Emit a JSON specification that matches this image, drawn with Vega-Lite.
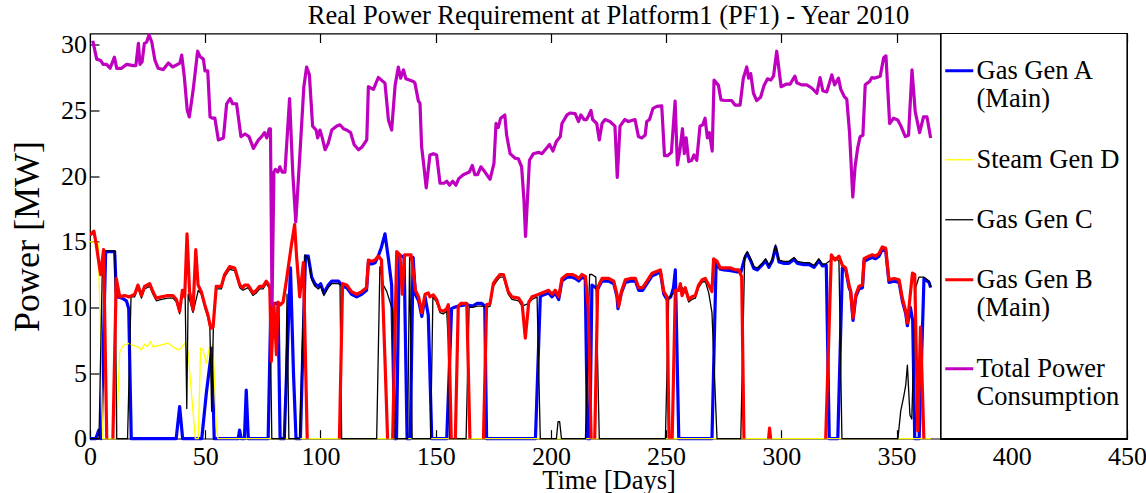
{
"$schema": "https://vega.github.io/schema/vega-lite/v6.json",
"width": 1037,
"height": 405.2,
"autosize": {"type": "none"},
"padding": {"left": 90, "top": 33.5, "right": 19, "bottom": 54.3},
"background": "white",
"config": {"view": {"stroke": "black", "strokeWidth": 1.2}, "font": "Liberation Serif"},
"title": {"text": "Real Power Requirement at Platform1 (PF1) - Year 2010", "font": "Liberation Serif", "fontSize": 26.5, "fontWeight": "normal", "color": "black", "anchor": "middle", "offset": 2},
"data": {"values": [
{"s":"T","d":1.2,"v":30.3},{"s":"T","d":2.9,"v":28.9},{"s":"T","d":4.6,"v":28.8},{"s":"T","d":5.7,"v":28.5},{"s":"T","d":7.2,"v":28.5},{"s":"T","d":8.7,"v":28.2},{"s":"T","d":10.6,"v":29.05},{"s":"T","d":11.6,"v":28.2},{"s":"T","d":13.7,"v":28.2},{"s":"T","d":15.9,"v":28.5},{"s":"T","d":18.8,"v":28.4},{"s":"T","d":19.9,"v":28.4},{"s":"T","d":21.0,"v":30.1},{"s":"T","d":21.7,"v":28.5},{"s":"T","d":22.6,"v":28.7},{"s":"T","d":23.6,"v":30.1},{"s":"T","d":24.6,"v":30.2},{"s":"T","d":25.6,"v":30.75},{"s":"T","d":26.8,"v":30.2},{"s":"T","d":28.2,"v":28.8},{"s":"T","d":29.6,"v":28.2},{"s":"T","d":31.8,"v":28.1},{"s":"T","d":34.0,"v":28.6},{"s":"T","d":35.9,"v":28.3},{"s":"T","d":39.0,"v":28.6},{"s":"T","d":39.8,"v":29.2},{"s":"T","d":40.9,"v":27.6},{"s":"T","d":42.2,"v":25.0},{"s":"T","d":43.1,"v":24.5},{"s":"T","d":44.8,"v":26.6},{"s":"T","d":46.7,"v":29.5},{"s":"T","d":47.7,"v":29.1},{"s":"T","d":49.2,"v":28.9},{"s":"T","d":49.9,"v":28.0},{"s":"T","d":51.1,"v":28.0},{"s":"T","d":52.1,"v":24.5},{"s":"T","d":53.2,"v":24.4},{"s":"T","d":54.2,"v":24.4},{"s":"T","d":55.7,"v":22.75},{"s":"T","d":57.9,"v":22.9},{"s":"T","d":59.3,"v":25.5},{"s":"T","d":60.8,"v":25.9},{"s":"T","d":61.9,"v":25.5},{"s":"T","d":63.6,"v":25.5},{"s":"T","d":65.5,"v":23.0},{"s":"T","d":67.3,"v":23.2},{"s":"T","d":69.0,"v":23.0},{"s":"T","d":70.9,"v":22.1},{"s":"T","d":73.1,"v":22.75},{"s":"T","d":74.5,"v":23.0},{"s":"T","d":75.7,"v":23.3},{"s":"T","d":76.7,"v":22.9},{"s":"T","d":77.8,"v":23.6},{"s":"T","d":78.3,"v":23.6},{"s":"T","d":79.0,"v":10.2},{"s":"T","d":79.8,"v":20.3},{"s":"T","d":80.5,"v":20.5},{"s":"T","d":81.5,"v":20.3},{"s":"T","d":82.4,"v":20.7},{"s":"T","d":83.4,"v":20.3},{"s":"T","d":84.6,"v":20.3},{"s":"T","d":86.6,"v":25.9},{"s":"T","d":88.0,"v":20.2},{"s":"T","d":89.3,"v":16.5},{"s":"T","d":91.1,"v":21.7},{"s":"T","d":92.8,"v":26.8},{"s":"T","d":94.0,"v":28.3},{"s":"T","d":95.2,"v":27.7},{"s":"T","d":96.6,"v":23.8},{"s":"T","d":98.1,"v":23.5},{"s":"T","d":98.8,"v":22.9},{"s":"T","d":99.8,"v":23.5},{"s":"T","d":100.8,"v":22.9},{"s":"T","d":102.0,"v":22.0},{"s":"T","d":103.4,"v":22.5},{"s":"T","d":104.9,"v":23.5},{"s":"T","d":107.1,"v":23.8},{"s":"T","d":108.5,"v":23.9},{"s":"T","d":110.0,"v":23.6},{"s":"T","d":111.4,"v":23.5},{"s":"T","d":113.1,"v":23.3},{"s":"T","d":114.6,"v":22.4},{"s":"T","d":116.5,"v":22.0},{"s":"T","d":118.0,"v":22.2},{"s":"T","d":120.1,"v":22.75},{"s":"T","d":120.8,"v":26.8},{"s":"T","d":123.0,"v":26.6},{"s":"T","d":125.1,"v":27.5},{"s":"T","d":128.0,"v":27.07},{"s":"T","d":129.5,"v":24.27},{"s":"T","d":130.9,"v":23.5},{"s":"T","d":132.4,"v":26.9},{"s":"T","d":133.8,"v":28.3},{"s":"T","d":134.8,"v":27.45},{"s":"T","d":136.0,"v":28.08},{"s":"T","d":137.1,"v":27.4},{"s":"T","d":140.3,"v":27.2},{"s":"T","d":141.0,"v":27.07},{"s":"T","d":142.5,"v":25.7},{"s":"T","d":143.2,"v":25.54},{"s":"T","d":143.9,"v":22.24},{"s":"T","d":144.6,"v":21.2},{"s":"T","d":145.9,"v":19.1},{"s":"T","d":147.5,"v":21.6},{"s":"T","d":149.0,"v":21.7},{"s":"T","d":150.4,"v":21.6},{"s":"T","d":151.9,"v":19.45},{"s":"T","d":153.6,"v":19.45},{"s":"T","d":154.8,"v":19.6},{"s":"T","d":156.0,"v":19.3},{"s":"T","d":157.4,"v":19.6},{"s":"T","d":158.8,"v":19.3},{"s":"T","d":160.0,"v":19.8},{"s":"T","d":162.0,"v":20.1},{"s":"T","d":164.6,"v":20.3},{"s":"T","d":165.9,"v":20.8},{"s":"T","d":167.0,"v":20.1},{"s":"T","d":168.2,"v":20.1},{"s":"T","d":169.6,"v":20.7},{"s":"T","d":171.4,"v":20.3},{"s":"T","d":173.6,"v":19.75},{"s":"T","d":175.3,"v":20.97},{"s":"T","d":176.2,"v":24.0},{"s":"T","d":177.2,"v":23.7},{"s":"T","d":178.2,"v":24.4},{"s":"T","d":180.0,"v":24.65},{"s":"T","d":180.8,"v":23.1},{"s":"T","d":182.3,"v":21.7},{"s":"T","d":184.5,"v":21.35},{"s":"T","d":185.9,"v":21.3},{"s":"T","d":187.3,"v":20.7},{"s":"T","d":188.3,"v":18.2},{"s":"T","d":189.0,"v":15.4},{"s":"T","d":190.7,"v":21.2},{"s":"T","d":192.4,"v":21.7},{"s":"T","d":194.6,"v":21.8},{"s":"T","d":196.1,"v":21.7},{"s":"T","d":198.0,"v":22.1},{"s":"T","d":199.4,"v":22.4},{"s":"T","d":200.9,"v":21.9},{"s":"T","d":202.3,"v":22.6},{"s":"T","d":204.1,"v":23.0},{"s":"T","d":204.8,"v":24.0},{"s":"T","d":207.0,"v":24.65},{"s":"T","d":208.3,"v":24.8},{"s":"T","d":210.5,"v":24.75},{"s":"T","d":212.0,"v":24.15},{"s":"T","d":213.0,"v":24.65},{"s":"T","d":214.4,"v":24.3},{"s":"T","d":215.5,"v":24.3},{"s":"T","d":216.5,"v":24.65},{"s":"T","d":217.4,"v":25.0},{"s":"T","d":218.1,"v":24.3},{"s":"T","d":219.9,"v":24.0},{"s":"T","d":221.0,"v":22.75},{"s":"T","d":222.2,"v":24.0},{"s":"T","d":223.5,"v":24.3},{"s":"T","d":225.6,"v":24.15},{"s":"T","d":227.8,"v":23.8},{"s":"T","d":228.8,"v":19.9},{"s":"T","d":230.0,"v":23.8},{"s":"T","d":232.1,"v":24.3},{"s":"T","d":233.6,"v":24.15},{"s":"T","d":236.5,"v":24.3},{"s":"T","d":238.0,"v":23.0},{"s":"T","d":239.4,"v":22.9},{"s":"T","d":240.9,"v":23.1},{"s":"T","d":241.6,"v":24.15},{"s":"T","d":242.8,"v":24.3},{"s":"T","d":244.3,"v":25.15},{"s":"T","d":246.0,"v":25.3},{"s":"T","d":248.1,"v":25.34},{"s":"T","d":249.3,"v":21.55},{"s":"T","d":250.6,"v":21.55},{"s":"T","d":252.3,"v":21.8},{"s":"T","d":253.9,"v":25.7},{"s":"T","d":254.9,"v":20.85},{"s":"T","d":256.0,"v":22.0},{"s":"T","d":257.1,"v":23.6},{"s":"T","d":257.9,"v":21.7},{"s":"T","d":258.7,"v":22.9},{"s":"T","d":259.8,"v":21.1},{"s":"T","d":261.1,"v":21.2},{"s":"T","d":262.1,"v":21.6},{"s":"T","d":263.3,"v":21.2},{"s":"T","d":264.7,"v":23.8},{"s":"T","d":265.9,"v":23.9},{"s":"T","d":266.9,"v":24.4},{"s":"T","d":267.9,"v":22.9},{"s":"T","d":268.8,"v":23.3},{"s":"T","d":270.0,"v":21.9},{"s":"T","d":270.8,"v":27.3},{"s":"T","d":272.7,"v":26.9},{"s":"T","d":273.8,"v":25.8},{"s":"T","d":275.6,"v":25.75},{"s":"T","d":278.4,"v":25.75},{"s":"T","d":279.9,"v":25.4},{"s":"T","d":282.1,"v":25.4},{"s":"T","d":283.5,"v":27.45},{"s":"T","d":285.0,"v":28.3},{"s":"T","d":285.8,"v":27.45},{"s":"T","d":286.7,"v":27.8},{"s":"T","d":287.9,"v":26.3},{"s":"T","d":289.3,"v":25.75},{"s":"T","d":291.0,"v":26.0},{"s":"T","d":292.5,"v":26.9},{"s":"T","d":294.0,"v":27.4},{"s":"T","d":295.4,"v":27.3},{"s":"T","d":296.6,"v":27.6},{"s":"T","d":298.0,"v":29.5},{"s":"T","d":299.9,"v":26.8},{"s":"T","d":302.3,"v":27.0},{"s":"T","d":303.8,"v":27.0},{"s":"T","d":305.9,"v":27.6},{"s":"T","d":306.7,"v":27.1},{"s":"T","d":308.8,"v":26.94},{"s":"T","d":311.0,"v":26.94},{"s":"T","d":313.2,"v":26.7},{"s":"T","d":315.4,"v":26.3},{"s":"T","d":316.8,"v":27.5},{"s":"T","d":318.0,"v":26.5},{"s":"T","d":319.7,"v":26.4},{"s":"T","d":321.9,"v":27.7},{"s":"T","d":323.1,"v":26.94},{"s":"T","d":324.8,"v":27.45},{"s":"T","d":325.8,"v":26.6},{"s":"T","d":327.3,"v":26.05},{"s":"T","d":328.4,"v":25.85},{"s":"T","d":329.6,"v":23.3},{"s":"T","d":331.0,"v":18.4},{"s":"T","d":332.0,"v":20.7},{"s":"T","d":333.1,"v":22.1},{"s":"T","d":334.2,"v":23.0},{"s":"T","d":335.4,"v":23.1},{"s":"T","d":336.4,"v":26.94},{"s":"T","d":338.3,"v":27.2},{"s":"T","d":339.3,"v":27.5},{"s":"T","d":340.3,"v":27.45},{"s":"T","d":342.9,"v":27.6},{"s":"T","d":344.4,"v":29.0},{"s":"T","d":345.4,"v":29.15},{"s":"T","d":347.0,"v":24.0},{"s":"T","d":348.7,"v":24.4},{"s":"T","d":350.5,"v":24.27},{"s":"T","d":351.9,"v":23.8},{"s":"T","d":353.8,"v":23.0},{"s":"T","d":355.2,"v":23.1},{"s":"T","d":356.7,"v":28.08},{"s":"T","d":358.1,"v":24.9},{"s":"T","d":360.0,"v":23.3},{"s":"T","d":361.7,"v":24.5},{"s":"T","d":363.2,"v":24.5},{"s":"T","d":364.8,"v":22.9},
{"s":"A","d":0,"v":0},{"s":"A","d":2.5,"v":0},{"s":"A","d":3.8,"v":0.65},{"s":"A","d":4.8,"v":0},{"s":"A","d":6.8,"v":14.25},{"s":"A","d":10.7,"v":14.25},{"s":"A","d":11.4,"v":11.2},{"s":"A","d":12.1,"v":10.8},{"s":"A","d":14,"v":10.7},{"s":"A","d":15.8,"v":10.5},{"s":"A","d":16.8,"v":9.9},{"s":"A","d":17.9,"v":0},{"s":"A","d":37.4,"v":0},{"s":"A","d":38.9,"v":2.44},{"s":"A","d":40.2,"v":0},{"s":"A","d":48.5,"v":0},{"s":"A","d":50.5,"v":3.5},{"s":"A","d":52.9,"v":6.9},{"s":"A","d":53.9,"v":0},{"s":"A","d":64.3,"v":0},{"s":"A","d":64.9,"v":0.65},{"s":"A","d":65.6,"v":0},{"s":"A","d":67.0,"v":0},{"s":"A","d":67.8,"v":3.7},{"s":"A","d":68.7,"v":0},{"s":"A","d":77.3,"v":0},{"s":"A","d":78.5,"v":10.3},{"s":"A","d":81.6,"v":10.3},{"s":"A","d":82.5,"v":0},{"s":"A","d":84.3,"v":0},{"s":"A","d":85.5,"v":6},{"s":"A","d":87.0,"v":13.0},{"s":"A","d":88.3,"v":5},{"s":"A","d":89.4,"v":0},{"s":"A","d":91.3,"v":0},{"s":"A","d":93.5,"v":13.9},{"s":"A","d":94.7,"v":13.9},{"s":"A","d":96.2,"v":12.3},{"s":"A","d":97.6,"v":11.8},{"s":"A","d":99.1,"v":11.6},{"s":"A","d":100.1,"v":11.8},{"s":"A","d":101.5,"v":11.1},{"s":"A","d":103.4,"v":11.7},{"s":"A","d":104.9,"v":12.0},{"s":"A","d":107.8,"v":12.0},{"s":"A","d":109.6,"v":11.6},{"s":"A","d":111.4,"v":11.5},{"s":"A","d":113.5,"v":11.0},{"s":"A","d":115.7,"v":10.8},{"s":"A","d":117.9,"v":11.0},{"s":"A","d":120.0,"v":11.3},{"s":"A","d":120.8,"v":13.4},{"s":"A","d":122.2,"v":13.3},{"s":"A","d":123.7,"v":13.4},{"s":"A","d":125.1,"v":13.9},{"s":"A","d":126.5,"v":14.6},{"s":"A","d":128.0,"v":15.6},{"s":"A","d":129.5,"v":13.7},{"s":"A","d":130.9,"v":11.7},{"s":"A","d":132.2,"v":0},{"s":"A","d":133.0,"v":0},{"s":"A","d":134.2,"v":14.0},{"s":"A","d":136.3,"v":13.8},{"s":"A","d":137.6,"v":0},{"s":"A","d":139.0,"v":0},{"s":"A","d":140.2,"v":13.8},{"s":"A","d":141.2,"v":11.0},{"s":"A","d":142.6,"v":10.5},{"s":"A","d":144.0,"v":9.3},{"s":"A","d":145.4,"v":10.8},{"s":"A","d":146.8,"v":9.4},{"s":"A","d":148.3,"v":0},{"s":"A","d":154.8,"v":0},{"s":"A","d":156.9,"v":9.9},{"s":"A","d":158.0,"v":10.0},{"s":"A","d":160,"v":10.1},{"s":"A","d":163.5,"v":10.2},{"s":"A","d":166,"v":10.1},{"s":"A","d":168,"v":10.3},{"s":"A","d":170,"v":10.3},{"s":"A","d":171.3,"v":10.1},{"s":"A","d":172.1,"v":0},{"s":"A","d":193.3,"v":0},{"s":"A","d":195.4,"v":10.8},{"s":"A","d":196.1,"v":10.9},{"s":"A","d":199,"v":11.1},{"s":"A","d":200.5,"v":10.8},{"s":"A","d":201.9,"v":11.1},{"s":"A","d":203.4,"v":10.6},{"s":"A","d":204.8,"v":12.0},{"s":"A","d":207,"v":12.3},{"s":"A","d":209.2,"v":12.3},{"s":"A","d":210.6,"v":12.2},{"s":"A","d":212.1,"v":12.0},{"s":"A","d":213.5,"v":12.3},{"s":"A","d":214.9,"v":12.2},{"s":"A","d":215.9,"v":0},{"s":"A","d":216.9,"v":0},{"s":"A","d":217.8,"v":11.7},{"s":"A","d":220.3,"v":11.4},{"s":"A","d":222.2,"v":12.0},{"s":"A","d":225.1,"v":12.0},{"s":"A","d":227.3,"v":11.8},{"s":"A","d":228.7,"v":10.8},{"s":"A","d":229.1,"v":9.9},{"s":"A","d":230.6,"v":11.1},{"s":"A","d":232.3,"v":11.9},{"s":"A","d":234.5,"v":12.0},{"s":"A","d":236.7,"v":12.0},{"s":"A","d":238.1,"v":11.3},{"s":"A","d":239.8,"v":11.3},{"s":"A","d":241.7,"v":11.8},{"s":"A","d":243.9,"v":12.4},{"s":"A","d":245.3,"v":12.5},{"s":"A","d":247.5,"v":12.7},{"s":"A","d":249.0,"v":11.0},{"s":"A","d":250.4,"v":10.6},{"s":"A","d":252.0,"v":10.8},{"s":"A","d":253.2,"v":11.5},{"s":"A","d":254.0,"v":12.85},{"s":"A","d":255.5,"v":0},{"s":"A","d":269.9,"v":0},{"s":"A","d":271.7,"v":13.4},{"s":"A","d":273.5,"v":12.9},{"s":"A","d":275.1,"v":12.85},{"s":"A","d":278,"v":12.8},{"s":"A","d":280.9,"v":12.7},{"s":"A","d":282.5,"v":12.7},{"s":"A","d":284.1,"v":13.75},{"s":"A","d":285.2,"v":14.1},{"s":"A","d":286.7,"v":13.55},{"s":"A","d":288.1,"v":12.95},{"s":"A","d":289.6,"v":12.85},{"s":"A","d":291.8,"v":13.25},{"s":"A","d":293.2,"v":13.55},{"s":"A","d":294.6,"v":13.05},{"s":"A","d":296.1,"v":13.55},{"s":"A","d":297.5,"v":14.6},{"s":"A","d":299,"v":13.45},{"s":"A","d":301.2,"v":13.35},{"s":"A","d":303.3,"v":13.35},{"s":"A","d":305.5,"v":13.65},{"s":"A","d":307,"v":13.35},{"s":"A","d":309.8,"v":13.25},{"s":"A","d":312,"v":13.25},{"s":"A","d":314.2,"v":13.05},{"s":"A","d":316.3,"v":13.55},{"s":"A","d":317.8,"v":13.15},{"s":"A","d":319.5,"v":13.2},{"s":"A","d":320.8,"v":0},{"s":"A","d":324.5,"v":0},{"s":"A","d":326.5,"v":13.0},{"s":"A","d":327.9,"v":12.9},{"s":"A","d":329.4,"v":11.5},{"s":"A","d":330.1,"v":11.2},{"s":"A","d":331.1,"v":9.0},{"s":"A","d":332.3,"v":10.8},{"s":"A","d":333.7,"v":11.4},{"s":"A","d":335.2,"v":11.5},{"s":"A","d":335.9,"v":13.5},{"s":"A","d":338,"v":13.7},{"s":"A","d":339.5,"v":13.8},{"s":"A","d":340.9,"v":13.7},{"s":"A","d":342.4,"v":13.9},{"s":"A","d":343.8,"v":14.4},{"s":"A","d":345.3,"v":14.3},{"s":"A","d":346.7,"v":11.9},{"s":"A","d":348.9,"v":12.0},{"s":"A","d":351.1,"v":11.9},{"s":"A","d":352.5,"v":10.5},{"s":"A","d":354,"v":9.5},{"s":"A","d":354.7,"v":8.6},{"s":"A","d":356,"v":10},{"s":"A","d":357,"v":9},{"s":"A","d":357.9,"v":0},{"s":"A","d":359.8,"v":0},{"s":"A","d":361.9,"v":12.2},{"s":"A","d":364.1,"v":11.9},{"s":"A","d":364.8,"v":11.5},
{"s":"D","d":0,"v":15.0},{"s":"D","d":3.5,"v":14.9},{"s":"D","d":4.3,"v":10},{"s":"D","d":5.5,"v":0},{"s":"D","d":11.4,"v":0},{"s":"D","d":12.9,"v":6.6},{"s":"D","d":14.5,"v":7.1},{"s":"D","d":16.5,"v":7.25},{"s":"D","d":18.7,"v":7.1},{"s":"D","d":20.8,"v":7.0},{"s":"D","d":22.3,"v":6.76},{"s":"D","d":23.7,"v":7.2},{"s":"D","d":24.9,"v":7.0},{"s":"D","d":26.2,"v":7.4},{"s":"D","d":27.3,"v":7.0},{"s":"D","d":30.2,"v":7.1},{"s":"D","d":33.8,"v":7.27},{"s":"D","d":36.0,"v":7.0},{"s":"D","d":38.2,"v":6.76},{"s":"D","d":39.6,"v":6.9},{"s":"D","d":41.1,"v":7.27},{"s":"D","d":42.5,"v":6.7},{"s":"D","d":44.7,"v":2.06},{"s":"D","d":45.7,"v":0},{"s":"D","d":47.0,"v":0},{"s":"D","d":48.0,"v":6.9},{"s":"D","d":49.0,"v":6.8},{"s":"D","d":50.5,"v":5.74},{"s":"D","d":51.9,"v":7.0},{"s":"D","d":53.4,"v":7.14},{"s":"D","d":54.8,"v":1.0},{"s":"D","d":55.5,"v":0},{"s":"D","d":364.8,"v":0},
{"s":"C","d":0,"v":0},{"s":"C","d":3.9,"v":0},{"s":"C","d":5.5,"v":14.3},{"s":"C","d":10.8,"v":14.3},{"s":"C","d":11.6,"v":0},{"s":"C","d":16.3,"v":0},{"s":"C","d":17.8,"v":10.8},{"s":"C","d":19.4,"v":10.8},{"s":"C","d":20.8,"v":11.5},{"s":"C","d":22.3,"v":10.7},{"s":"C","d":23.7,"v":11.4},{"s":"C","d":25.9,"v":11.6},{"s":"C","d":27.3,"v":11.0},{"s":"C","d":28.8,"v":10.5},{"s":"C","d":31.0,"v":10.6},{"s":"C","d":33.8,"v":10.7},{"s":"C","d":36.0,"v":10.7},{"s":"C","d":37.5,"v":10.4},{"s":"C","d":38.9,"v":9.5},{"s":"C","d":40.1,"v":11.1},{"s":"C","d":41.3,"v":10.8},{"s":"C","d":42.0,"v":2.3},{"s":"C","d":42.6,"v":11.0},{"s":"C","d":44.7,"v":9.6},{"s":"C","d":47,"v":11.3},{"s":"C","d":48.3,"v":11.0},{"s":"C","d":49.8,"v":10.0},{"s":"C","d":51.2,"v":9.2},{"s":"C","d":52.0,"v":8.5},{"s":"C","d":52.8,"v":2.1},{"s":"C","d":53.5,"v":8.3},{"s":"C","d":54.8,"v":11.4},{"s":"C","d":57.0,"v":11.4},{"s":"C","d":58.4,"v":12.3},{"s":"C","d":60.6,"v":12.9},{"s":"C","d":62.8,"v":12.8},{"s":"C","d":65.0,"v":11.5},{"s":"C","d":66.4,"v":11.3},{"s":"C","d":68.6,"v":11.5},{"s":"C","d":70.7,"v":10.9},{"s":"C","d":72.2,"v":11.1},{"s":"C","d":73.6,"v":11.4},{"s":"C","d":75.1,"v":11.4},{"s":"C","d":76.5,"v":11.8},{"s":"C","d":78.0,"v":11.4},{"s":"C","d":78.9,"v":0},{"s":"C","d":84.6,"v":0},{"s":"C","d":85.5,"v":11},{"s":"C","d":86.3,"v":0},{"s":"C","d":91.0,"v":0},{"s":"C","d":93.3,"v":14.0},{"s":"C","d":94.7,"v":13.7},{"s":"C","d":96.2,"v":12.1},{"s":"C","d":97.6,"v":11.6},{"s":"C","d":99.1,"v":11.4},{"s":"C","d":100.1,"v":11.6},{"s":"C","d":101.5,"v":10.9},{"s":"C","d":103.4,"v":11.5},{"s":"C","d":104.9,"v":11.8},{"s":"C","d":107.8,"v":11.8},{"s":"C","d":108.5,"v":11.7},{"s":"C","d":109.2,"v":0},{"s":"C","d":124.4,"v":0},{"s":"C","d":125.8,"v":13.1},{"s":"C","d":127.3,"v":11.7},{"s":"C","d":128.8,"v":11.2},{"s":"C","d":130.2,"v":10.4},{"s":"C","d":131.3,"v":9.8},{"s":"C","d":132.4,"v":0},{"s":"C","d":137.8,"v":0},{"s":"C","d":138.7,"v":13.8},{"s":"C","d":139.8,"v":0},{"s":"C","d":147.8,"v":0},{"s":"C","d":148.8,"v":10.8},{"s":"C","d":150.4,"v":10.4},{"s":"C","d":151.9,"v":9.6},{"s":"C","d":153.3,"v":9.5},{"s":"C","d":154.8,"v":9.7},{"s":"C","d":155.5,"v":7.3},{"s":"C","d":156.0,"v":0},{"s":"C","d":163.2,"v":0},{"s":"C","d":164.5,"v":10.0},{"s":"C","d":166,"v":10.0},{"s":"C","d":168,"v":10.1},{"s":"C","d":170,"v":10.1},{"s":"C","d":172.1,"v":10.0},{"s":"C","d":173.6,"v":10.1},{"s":"C","d":175.0,"v":11.6},{"s":"C","d":176.5,"v":12.0},{"s":"C","d":177.9,"v":12.3},{"s":"C","d":179.4,"v":12.3},{"s":"C","d":181.5,"v":11.0},{"s":"C","d":183.1,"v":10.6},{"s":"C","d":186.0,"v":10.5},{"s":"C","d":187.5,"v":10.1},{"s":"C","d":190.4,"v":10.3},{"s":"C","d":191.8,"v":10.6},{"s":"C","d":194.0,"v":10.8},{"s":"C","d":195.4,"v":0},{"s":"C","d":202.4,"v":0},{"s":"C","d":203.1,"v":1.3},{"s":"C","d":203.8,"v":1.3},{"s":"C","d":204.6,"v":0},{"s":"C","d":215.0,"v":0},{"s":"C","d":216.8,"v":12.5},{"s":"C","d":217.8,"v":12.5},{"s":"C","d":219.5,"v":12.3},{"s":"C","d":221.0,"v":0},{"s":"C","d":249.7,"v":0},{"s":"C","d":251.1,"v":10.7},{"s":"C","d":252.6,"v":11.0},{"s":"C","d":254.0,"v":11.1},{"s":"C","d":256.2,"v":11.6},{"s":"C","d":258.3,"v":11.3},{"s":"C","d":259.8,"v":10.4},{"s":"C","d":261.2,"v":10.6},{"s":"C","d":262.7,"v":10.7},{"s":"C","d":264.1,"v":11.5},{"s":"C","d":265.6,"v":11.9},{"s":"C","d":267.0,"v":12.0},{"s":"C","d":268.5,"v":11.1},{"s":"C","d":269.9,"v":9.6},{"s":"C","d":272.1,"v":0},{"s":"C","d":282.4,"v":0},{"s":"C","d":284.1,"v":13.9},{"s":"C","d":285.2,"v":14.25},{"s":"C","d":286.7,"v":13.7},{"s":"C","d":288.1,"v":13.1},{"s":"C","d":289.6,"v":13.0},{"s":"C","d":291.8,"v":13.4},{"s":"C","d":293.2,"v":13.7},{"s":"C","d":294.6,"v":13.2},{"s":"C","d":296.1,"v":13.7},{"s":"C","d":297.5,"v":14.75},{"s":"C","d":299.0,"v":13.6},{"s":"C","d":301.2,"v":13.5},{"s":"C","d":303.3,"v":13.5},{"s":"C","d":305.5,"v":13.8},{"s":"C","d":307.0,"v":13.5},{"s":"C","d":309.8,"v":13.4},{"s":"C","d":312.0,"v":13.4},{"s":"C","d":314.2,"v":13.2},{"s":"C","d":316.3,"v":13.7},{"s":"C","d":317.8,"v":13.3},{"s":"C","d":319.2,"v":13.3},{"s":"C","d":321.5,"v":13.6},{"s":"C","d":323.5,"v":13.8},{"s":"C","d":325.0,"v":13.5},{"s":"C","d":326.3,"v":0},{"s":"C","d":350.6,"v":0},{"s":"C","d":351.8,"v":2.1},{"s":"C","d":353.2,"v":3.3},{"s":"C","d":354.0,"v":4.1},{"s":"C","d":354.7,"v":5.6},{"s":"C","d":355.8,"v":1.8},{"s":"C","d":356.6,"v":1.5},{"s":"C","d":358.3,"v":11.5},{"s":"C","d":359.7,"v":12.3},{"s":"C","d":361.9,"v":12.3},{"s":"C","d":364.1,"v":12.0},{"s":"C","d":364.8,"v":11.6},
{"s":"B","d":0,"v":15.5},{"s":"B","d":1.7,"v":15.8},{"s":"B","d":2.7,"v":14.8},{"s":"B","d":4.6,"v":12.5},{"s":"B","d":5.9,"v":14.4},{"s":"B","d":7.3,"v":-0.3},{"s":"B","d":9.9,"v":-0.3},{"s":"B","d":11.4,"v":12.2},{"s":"B","d":12.9,"v":10.8},{"s":"B","d":15,"v":10.9},{"s":"B","d":17,"v":10.8},{"s":"B","d":19.4,"v":11.0},{"s":"B","d":20.8,"v":11.7},{"s":"B","d":22.3,"v":10.9},{"s":"B","d":23.7,"v":11.6},{"s":"B","d":25.9,"v":11.8},{"s":"B","d":27.3,"v":11.2},{"s":"B","d":28.8,"v":10.7},{"s":"B","d":31.0,"v":10.8},{"s":"B","d":33.8,"v":10.9},{"s":"B","d":36.0,"v":10.9},{"s":"B","d":37.5,"v":10.6},{"s":"B","d":38.9,"v":9.7},{"s":"B","d":40.1,"v":11.3},{"s":"B","d":41.1,"v":10.8},{"s":"B","d":42.1,"v":15.6},{"s":"B","d":43.2,"v":11.2},{"s":"B","d":44.7,"v":9.8},{"s":"B","d":45.9,"v":14.4},{"s":"B","d":46.9,"v":11.7},{"s":"B","d":48.3,"v":11.2},{"s":"B","d":49.8,"v":10.2},{"s":"B","d":51.2,"v":9.4},{"s":"B","d":52.4,"v":8.4},{"s":"B","d":53.4,"v":8.5},{"s":"B","d":54.8,"v":11.6},{"s":"B","d":57.0,"v":11.6},{"s":"B","d":58.4,"v":12.5},{"s":"B","d":60.6,"v":13.1},{"s":"B","d":62.8,"v":13.0},{"s":"B","d":65.0,"v":11.7},{"s":"B","d":66.4,"v":11.5},{"s":"B","d":67.1,"v":11.7},{"s":"B","d":68.6,"v":11.7},{"s":"B","d":70.7,"v":11.1},{"s":"B","d":72.2,"v":11.3},{"s":"B","d":73.6,"v":11.6},{"s":"B","d":75.1,"v":11.6},{"s":"B","d":76.5,"v":12.0},{"s":"B","d":78.0,"v":11.6},{"s":"B","d":78.7,"v":5.9},{"s":"B","d":79.8,"v":10.3},{"s":"B","d":80.9,"v":6.4},{"s":"B","d":81.6,"v":10.4},{"s":"B","d":82.7,"v":10.2},{"s":"B","d":83.8,"v":10.4},{"s":"B","d":85.2,"v":12.0},{"s":"B","d":87.4,"v":14.75},{"s":"B","d":88.8,"v":16.3},{"s":"B","d":89.6,"v":14},{"s":"B","d":91.0,"v":10.8},{"s":"B","d":92.6,"v":13.4},{"s":"B","d":94.3,"v":-0.3},{"s":"B","d":108.2,"v":-0.3},{"s":"B","d":109.6,"v":11.8},{"s":"B","d":111.4,"v":11.7},{"s":"B","d":113.5,"v":11.2},{"s":"B","d":115.7,"v":11.0},{"s":"B","d":117.9,"v":11.2},{"s":"B","d":120.0,"v":11.5},{"s":"B","d":120.8,"v":13.6},{"s":"B","d":122.2,"v":13.5},{"s":"B","d":123.7,"v":13.6},{"s":"B","d":125.1,"v":13.9},{"s":"B","d":126.5,"v":13.6},{"s":"B","d":128.0,"v":6},{"s":"B","d":129.2,"v":-0.3},{"s":"B","d":131.3,"v":-0.3},{"s":"B","d":133.1,"v":14.25},{"s":"B","d":134.5,"v":14.0},{"s":"B","d":135.5,"v":11.0},{"s":"B","d":136.5,"v":14.0},{"s":"B","d":138.0,"v":14.0},{"s":"B","d":139.3,"v":14.0},{"s":"B","d":140.0,"v":13.2},{"s":"B","d":141.2,"v":11.3},{"s":"B","d":142.6,"v":10.8},{"s":"B","d":144.0,"v":9.6},{"s":"B","d":145.4,"v":11.0},{"s":"B","d":146.8,"v":11.1},{"s":"B","d":147.5,"v":10.8},{"s":"B","d":149.0,"v":10.95},{"s":"B","d":150.4,"v":10.6},{"s":"B","d":151.9,"v":9.8},{"s":"B","d":153.3,"v":9.7},{"s":"B","d":154.8,"v":9.9},{"s":"B","d":155.5,"v":10.2},{"s":"B","d":156.8,"v":-0.3},{"s":"B","d":158.5,"v":-0.3},{"s":"B","d":159.8,"v":10.1},{"s":"B","d":161,"v":10.3},{"s":"B","d":163.5,"v":10.3},{"s":"B","d":164.9,"v":-0.3},{"s":"B","d":170.7,"v":-0.3},{"s":"B","d":172.1,"v":10.2},{"s":"B","d":173.6,"v":10.3},{"s":"B","d":175.0,"v":11.8},{"s":"B","d":176.5,"v":12.2},{"s":"B","d":177.9,"v":12.5},{"s":"B","d":179.4,"v":12.5},{"s":"B","d":181.5,"v":11.2},{"s":"B","d":183.1,"v":10.8},{"s":"B","d":186.0,"v":10.7},{"s":"B","d":187.5,"v":10.3},{"s":"B","d":188.9,"v":7.65},{"s":"B","d":190.4,"v":10.4},{"s":"B","d":191.8,"v":10.8},{"s":"B","d":194.0,"v":10.95},{"s":"B","d":196.1,"v":11.1},{"s":"B","d":199.0,"v":11.3},{"s":"B","d":200.5,"v":11.0},{"s":"B","d":201.9,"v":11.3},{"s":"B","d":203.4,"v":10.8},{"s":"B","d":204.8,"v":12.2},{"s":"B","d":207.0,"v":12.5},{"s":"B","d":209.2,"v":12.5},{"s":"B","d":210.6,"v":12.4},{"s":"B","d":212.1,"v":12.2},{"s":"B","d":213.5,"v":12.5},{"s":"B","d":215.0,"v":12.35},{"s":"B","d":216.2,"v":10},{"s":"B","d":217.5,"v":-0.3},{"s":"B","d":219.0,"v":-0.3},{"s":"B","d":220.3,"v":11.5},{"s":"B","d":222.2,"v":12.2},{"s":"B","d":225.1,"v":12.2},{"s":"B","d":227.3,"v":12.0},{"s":"B","d":228.7,"v":10.95},{"s":"B","d":229.4,"v":10.06},{"s":"B","d":230.6,"v":11.2},{"s":"B","d":232.3,"v":12.1},{"s":"B","d":234.5,"v":12.2},{"s":"B","d":236.7,"v":12.2},{"s":"B","d":238.1,"v":11.5},{"s":"B","d":239.8,"v":11.5},{"s":"B","d":241.7,"v":12.0},{"s":"B","d":243.9,"v":12.6},{"s":"B","d":245.3,"v":12.7},{"s":"B","d":247.5,"v":12.85},{"s":"B","d":249.0,"v":11.2},{"s":"B","d":250.4,"v":10.8},{"s":"B","d":251.3,"v":-0.3},{"s":"B","d":252.6,"v":-0.3},{"s":"B","d":254.0,"v":11.3},{"s":"B","d":255.5,"v":11.3},{"s":"B","d":256.2,"v":11.8},{"s":"B","d":256.9,"v":10.9},{"s":"B","d":258.3,"v":11.5},{"s":"B","d":259.8,"v":10.6},{"s":"B","d":261.2,"v":10.8},{"s":"B","d":262.7,"v":10.9},{"s":"B","d":264.1,"v":11.7},{"s":"B","d":265.6,"v":12.1},{"s":"B","d":267.0,"v":12.2},{"s":"B","d":268.5,"v":11.7},{"s":"B","d":269.9,"v":11.2},{"s":"B","d":270.6,"v":13.7},{"s":"B","d":272.1,"v":13.5},{"s":"B","d":273.5,"v":13.0},{"s":"B","d":276.4,"v":13.0},{"s":"B","d":278.0,"v":13.0},{"s":"B","d":280.2,"v":12.85},{"s":"B","d":281.6,"v":12.85},{"s":"B","d":282.8,"v":12.3},{"s":"B","d":283.8,"v":-0.3},{"s":"B","d":294.3,"v":-0.3},{"s":"B","d":294.9,"v":0.8},{"s":"B","d":295.5,"v":-0.3},{"s":"B","d":319.2,"v":-0.3},{"s":"B","d":321.7,"v":14.0},{"s":"B","d":323.3,"v":13.6},{"s":"B","d":325.0,"v":13.9},{"s":"B","d":326.5,"v":13.2},{"s":"B","d":327.9,"v":13.0},{"s":"B","d":329.4,"v":11.7},{"s":"B","d":330.1,"v":11.2},{"s":"B","d":331.1,"v":9.2},{"s":"B","d":332.3,"v":10.95},{"s":"B","d":333.7,"v":11.6},{"s":"B","d":335.2,"v":11.7},{"s":"B","d":335.9,"v":13.7},{"s":"B","d":338.0,"v":13.9},{"s":"B","d":339.5,"v":14.0},{"s":"B","d":340.9,"v":13.9},{"s":"B","d":342.4,"v":14.1},{"s":"B","d":343.8,"v":14.6},{"s":"B","d":345.3,"v":14.5},{"s":"B","d":346.7,"v":12.1},{"s":"B","d":348.9,"v":12.2},{"s":"B","d":351.1,"v":12.1},{"s":"B","d":352.5,"v":10.7},{"s":"B","d":354.0,"v":9.7},{"s":"B","d":354.7,"v":8.8},{"s":"B","d":356.9,"v":12.6},{"s":"B","d":357.9,"v":12.5},{"s":"B","d":359.2,"v":0.6},{"s":"B","d":360.4,"v":8.5},{"s":"B","d":361.9,"v":-0.3},{"s":"B","d":364.8,"v":-0.3}
]},
"resolve": {"axis": {"x": "independent"}},
"layer": [
{"transform": [{"filter": "datum.s == 'A'"}],
 "mark": {"type": "line", "strokeWidth": 3.2, "strokeJoin": "round"},
 "encoding": {
  "x": {"field": "d", "type": "quantitative", "scale": {"domain": [0, 450], "nice": false, "zero": false},
    "axis": {"orient": "bottom", "values": [0,50,100,150,200,250,300,350,400,450], "tickSize": -9, "tickColor": "black", "tickWidth": 1.2, "domain": false, "grid": false, "labelFont": "Liberation Serif", "labelFontSize": 26, "labelColor": "black", "labelPadding": 13.6, "labelFlush": false, "labelOverlap": false, "title": "Time [Days]", "titleFont": "Liberation Serif", "titleFontSize": 26.5, "titleFontWeight": "normal", "titleColor": "black", "titleBaseline": "alphabetic", "titleY": 49.3, "titleX": 518.5}},
  "y": {"field": "v", "type": "quantitative", "scale": {"domain": [0, 30.85], "nice": false, "zero": true},
    "axis": {"orient": "left", "values": [0,5,10,15,20,25,30], "tickSize": -9, "tickColor": "black", "tickWidth": 1.2, "domain": false, "grid": false, "labelFont": "Liberation Serif", "labelFontSize": 26, "labelColor": "black", "labelPadding": 12.5, "labelFlush": false, "labelOverlap": false, "title": "Power [MW]", "titleFont": "Liberation Serif", "titleFontSize": 36, "titleFontWeight": "normal", "titleColor": "black", "titleBaseline": "alphabetic", "titleAngle": 270, "titleX": -52, "titleY": 202.6, "titleAlign": "center"}},
  "color": {"field": "s", "type": "nominal",
    "scale": {"domain": ["A", "D", "C", "B", "T"], "range": ["#0000ff", "#ffff00", "#000000", "#ff0000", "#bf00bf"]},
    "legend": {"orient": "none", "legendX": 856, "legendY": 24, "title": null, "padding": 0,
      "symbolType": "stroke", "symbolSize": 784, "symbolStrokeWidth": 3,
      "labelFont": "Liberation Serif", "labelFontSize": 26.5, "labelColor": "black", "labelOffset": 4, "labelLimit": 400, "rowPadding": 33,
      "labelExpr": "datum.label == 'A' ? ['Gas Gen A', '(Main)'] : datum.label == 'D' ? 'Steam Gen D' : datum.label == 'C' ? 'Gas Gen C' : datum.label == 'B' ? ['Gas Gen B', '(Main)'] : ['Total Power', 'Consumption']",
      "encode": {"symbols": {"update": {"strokeWidth": {"signal": "datum.value == 'D' || datum.value == 'C' ? 1.3 : 3"}}}, "labels": {"update": {"lineHeight": {"value": 28.3}}}}}}
 }},
{"transform": [{"filter": "datum.s == 'D'"}],
 "mark": {"type": "line", "strokeWidth": 1.3, "strokeJoin": "round"},
 "encoding": {
  "x": {"field": "d", "type": "quantitative", "scale": {"domain": [0, 450], "nice": false, "zero": false}, "axis": null},
  "y": {"field": "v", "type": "quantitative", "scale": {"domain": [0, 30.85], "nice": false, "zero": true}},
  "color": {"field": "s", "type": "nominal", "scale": {"domain": ["A", "D", "C", "B", "T"], "range": ["#0000ff", "#ffff00", "#000000", "#ff0000", "#bf00bf"]}, "legend": null}
 }},
{"transform": [{"filter": "datum.s == 'C'"}],
 "mark": {"type": "line", "strokeWidth": 1.3, "strokeJoin": "round"},
 "encoding": {
  "x": {"field": "d", "type": "quantitative", "scale": {"domain": [0, 450], "nice": false, "zero": false}, "axis": null},
  "y": {"field": "v", "type": "quantitative", "scale": {"domain": [0, 30.85], "nice": false, "zero": true}},
  "color": {"field": "s", "type": "nominal", "scale": {"domain": ["A", "D", "C", "B", "T"], "range": ["#0000ff", "#ffff00", "#000000", "#ff0000", "#bf00bf"]}, "legend": null}
 }},
{"transform": [{"filter": "datum.s == 'B'"}],
 "mark": {"type": "line", "strokeWidth": 3.2, "strokeJoin": "round", "clip": true},
 "encoding": {
  "x": {"field": "d", "type": "quantitative", "scale": {"domain": [0, 450], "nice": false, "zero": false}, "axis": null},
  "y": {"field": "v", "type": "quantitative", "scale": {"domain": [0, 30.85], "nice": false, "zero": true}},
  "color": {"field": "s", "type": "nominal", "scale": {"domain": ["A", "D", "C", "B", "T"], "range": ["#0000ff", "#ffff00", "#000000", "#ff0000", "#bf00bf"]}, "legend": null}
 }},
{"transform": [{"filter": "datum.s == 'T'"}],
 "mark": {"type": "line", "strokeWidth": 3.2, "strokeJoin": "round"},
 "encoding": {
  "x": {"field": "d", "type": "quantitative", "scale": {"domain": [0, 450], "nice": false, "zero": false},
    "axis": {"orient": "top", "values": [0,50,100,150,200,250,300,350,400,450], "tickSize": -9, "tickColor": "black", "tickWidth": 1.2, "domain": false, "grid": false, "labels": false, "title": null}},
  "y": {"field": "v", "type": "quantitative", "scale": {"domain": [0, 30.85], "nice": false, "zero": true}},
  "color": {"field": "s", "type": "nominal", "scale": {"domain": ["A", "D", "C", "B", "T"], "range": ["#0000ff", "#ffff00", "#000000", "#ff0000", "#bf00bf"]}, "legend": null}
 }},
{"mark": {"type": "rect", "fill": "white", "stroke": "black", "strokeWidth": 1.2},
 "encoding": {
  "x": {"datum": 369.3, "type": "quantitative", "scale": {"domain": [0, 450], "nice": false, "zero": false}, "axis": null},
  "x2": {"datum": 450},
  "y": {"datum": 0, "type": "quantitative", "scale": {"domain": [0, 30.85], "nice": false, "zero": true}},
  "y2": {"datum": 30.85}
 }}
]
}
